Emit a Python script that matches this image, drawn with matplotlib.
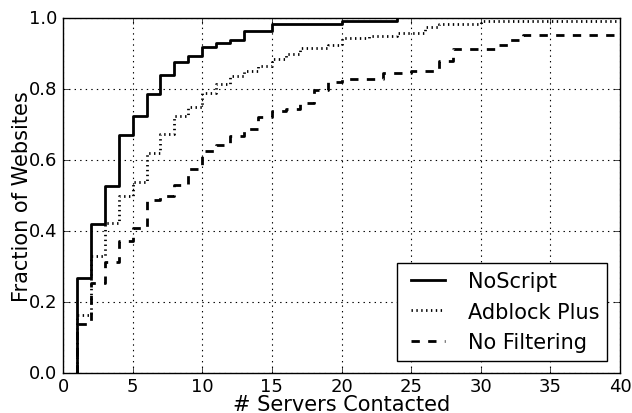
import matplotlib
matplotlib.use('Agg')
import matplotlib.pyplot as plt

# number of servers contacted (step positions) and cumulative fraction of websites
noscript_x = [1, 2, 3, 4, 5, 6, 7, 8, 9, 10, 11, 12, 13, 15, 20, 24]
noscript_y = [0.268, 0.42, 0.527, 0.67, 0.724, 0.786, 0.839, 0.877, 0.894,
              0.919, 0.931, 0.938, 0.964, 0.983, 0.992, 1.0]

adblock_x = [1, 2, 3, 4, 5, 6, 7, 8, 9, 10, 11, 12, 13, 14, 15, 16, 17, 19,
             20, 22, 24, 26, 27, 30, 40]
adblock_y = [0.163, 0.329, 0.422, 0.50, 0.539, 0.621, 0.673, 0.723, 0.748,
             0.79, 0.814, 0.838, 0.852, 0.866, 0.886, 0.90, 0.917, 0.925,
             0.943, 0.950, 0.958, 0.974, 0.983, 0.992, 0.992]

nofilter_x = [1, 2, 3, 4, 5, 6, 7, 8, 9, 10, 11, 12, 13, 14, 15, 16, 17, 18,
              19, 20, 23, 25, 27, 28, 31, 32, 33, 40]
nofilter_y = [0.138, 0.253, 0.314, 0.373, 0.408, 0.487, 0.499, 0.530, 0.575,
              0.626, 0.643, 0.668, 0.687, 0.722, 0.739, 0.745, 0.762, 0.797,
              0.819, 0.827, 0.845, 0.851, 0.880, 0.913, 0.923, 0.939, 0.951,
              0.951]

plt.style.use('classic')
fig = plt.figure(figsize=(6.32, 4.14), dpi=100)
ax = fig.add_axes([0.0997, 0.0966, 0.8813, 0.8574])

ax.step([noscript_x[0]] + noscript_x, [0] + noscript_y, where='post',
        color='black', lw=2, linestyle='-', label='NoScript')
ax.step([adblock_x[0]] + adblock_x, [0] + adblock_y, where='post',
        color='black', lw=2, linestyle=(0, (1, 2.5)), label='Adblock Plus')
ax.step([nofilter_x[0]] + nofilter_x, [0] + nofilter_y, where='post',
        color='black', lw=2, linestyle='--', label='No Filtering')

ax.set_xlim(0, 40)
ax.set_ylim(0, 1.0)
ax.set_xticks(range(0, 41, 5))
ax.set_yticks([0.0, 0.2, 0.4, 0.6, 0.8, 1.0])
ax.grid(True, color='black', linestyle=':', linewidth=0.8)
ax.tick_params(labelsize=13)
ax.tick_params(axis='x', pad=3)
ax.set_xlabel('# Servers Contacted', fontsize=15, labelpad=-0.5)
ax.set_ylabel('Fraction of Websites', fontsize=15, labelpad=-2)

leg = ax.legend(loc='lower right', fontsize=15, handlelength=2.2,
                borderaxespad=0.6, fancybox=False)
leg.get_frame().set_edgecolor('black')

fig.savefig('out.png', dpi=100)
